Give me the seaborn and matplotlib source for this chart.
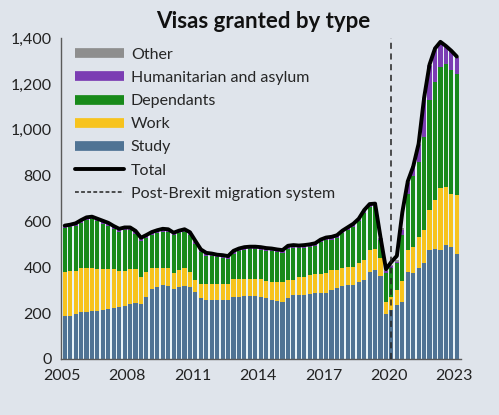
import numpy as np
import pandas as pd
import seaborn as sns
import matplotlib
matplotlib.use("Agg")
import matplotlib.pyplot as plt
from matplotlib.lines import Line2D
from matplotlib.ticker import MultipleLocator, FuncFormatter

# Quarterly periods, 2005 Q1 to 2023 Q1 (thousands of visas)
years = [y for y in range(2005, 2024) for q in range(4)][:73]
qtrs = [q for y in range(2005, 2024) for q in range(1, 5)][:73]

study = [187, 189, 195, 203, 206, 208, 209, 214, 219, 222, 225, 231, 240, 246, 240, 271,
         304, 312, 323, 318, 304, 312, 318, 312, 294, 264, 257, 257, 257, 257, 257, 271,
         271, 274, 274, 274, 271, 264, 258, 252, 250, 264, 278, 279, 279, 282, 286, 286,
         290, 303, 310, 318, 323, 323, 335, 344, 381, 388, 362, 195, 215, 235, 250, 381,
         374, 395, 417, 475, 482, 475, 497, 490, 460]
work = [194, 195, 189, 192, 189, 187, 182, 177, 172, 169, 159, 153, 151, 145, 119, 110,
        91, 83, 72, 77, 72, 78, 77, 68, 50, 63, 70, 70, 70, 70, 70, 76,
        76, 73, 73, 73, 76, 76, 79, 85, 87, 80, 66, 79, 79, 83, 86, 86,
        85, 84, 77, 77, 79, 79, 85, 87, 94, 94, 78, 55, 55, 65, 90, 94,
        116, 137, 145, 175, 211, 269, 254, 232, 255]
dependants = [189, 190, 196, 199, 211, 214, 209, 200, 191, 177, 172, 178, 171, 156, 158, 148,
              147, 155, 161, 159, 163, 158, 159, 161, 159, 139, 124, 121, 116, 114, 110, 113,
              123, 129, 131, 131, 129, 132, 133, 129, 126, 138, 141, 125, 127, 123, 121, 137,
              143, 134, 141, 153, 161, 176, 180, 207, 189, 184, 78, 126, 128, 118, 200, 247,
              307, 328, 407, 480, 517, 530, 538, 538, 530]
humanitarian = [7] * 62 + [25, 46, 38, 75, 166, 150, 140, 105, 72, 80, 70]
other = [5] * 73
total = [582, 586, 592, 606, 618, 621, 612, 603, 594, 580, 568, 574, 574, 559, 529, 541,
         554, 562, 568, 566, 551, 560, 566, 553, 515, 478, 463, 460, 455, 453, 449, 472,
         482, 488, 490, 490, 488, 484, 482, 478, 475, 494, 497, 495, 497, 500, 505, 521,
         530, 533, 540, 560, 575, 590, 612, 650, 676, 678, 530, 392, 424, 450, 640, 775,
         840, 940, 1140, 1285, 1355, 1384, 1366, 1345, 1320]
brexit_year = 2020.125

df = pd.DataFrame({"year": years, "quarter": qtrs, "Study": study, "Work": work,
                   "Dependants": dependants, "Humanitarian and asylum": humanitarian,
                   "Other": other, "Total": total})
df["x"] = df["year"] + (df["quarter"] - 0.5) / 4

series = ["Study", "Work", "Dependants", "Humanitarian and asylum", "Other"]
colors = {"Study": "#4f7394", "Work": "#f7c31d", "Dependants": "#188a1a",
          "Humanitarian and asylum": "#7b3db3", "Other": "#8e8e8e"}

bg = "#dfe4eb"
sns.set_style("white")
plt.rcParams["font.family"] = ["Lato", "DejaVu Sans"]

fig = plt.figure(figsize=(4.99, 4.15), dpi=100, facecolor=bg)
ax = fig.add_axes([0.123, 0.135, 0.80, 0.773], facecolor=bg)

# pale gaps between bars
stack_top = df[series].sum(axis=1)
ax.bar(df["x"], stack_top, width=0.25, color="#e8f3f8", linewidth=0, zorder=1)

bottom = np.zeros(len(df))
for s in series:
    ax.bar(df["x"], df[s], width=0.19, bottom=bottom, color=colors[s],
           linewidth=0, zorder=2)
    bottom += df[s].to_numpy()

sns.lineplot(data=df, x="x", y="Total", color="black", linewidth=2.8, ax=ax, zorder=4)
ax.axvline(brexit_year, color="#222222", linestyle=(0, (4, 3)), linewidth=1.1, zorder=5)

ax.set_xlim(2004.97, 2023.3)
ax.set_ylim(0, 1400)
ax.yaxis.set_major_locator(MultipleLocator(200))
ax.yaxis.set_major_formatter(FuncFormatter(lambda v, p: f"{int(v):,}"))
ax.xaxis.set_major_locator(MultipleLocator(1))
ax.xaxis.set_major_formatter(FuncFormatter(
    lambda v, p: f"{int(round(v))}" if (int(round(v)) - 2005) % 3 == 0 else ""))
ax.set_xlabel("")
ax.set_ylabel("")
for side in ["top", "right"]:
    ax.spines[side].set_visible(False)
for side in ["left", "bottom"]:
    ax.spines[side].set_color("#5a5a5a")
    ax.spines[side].set_linewidth(1.0)
ax.tick_params(axis="both", direction="out", length=4, width=0.9, color="#5a5a5a",
               labelsize=11.5, labelcolor="#222222", pad=3)

handles = [Line2D([], [], color=colors["Other"], lw=7, solid_capstyle="butt"),
           Line2D([], [], color=colors["Humanitarian and asylum"], lw=7, solid_capstyle="butt"),
           Line2D([], [], color=colors["Dependants"], lw=7, solid_capstyle="butt"),
           Line2D([], [], color=colors["Work"], lw=7, solid_capstyle="butt"),
           Line2D([], [], color=colors["Study"], lw=7, solid_capstyle="butt"),
           Line2D([], [], color="black", lw=2.8),
           Line2D([], [], color="#222222", lw=1.1, linestyle=(0, (2.5, 1.5)))]
labels = ["Other", "Humanitarian and asylum", "Dependants", "Work", "Study", "Total",
          "Post-Brexit migration system"]
ax.legend(handles, labels, loc="upper left", bbox_to_anchor=(0.01, 1.0), frameon=False,
          fontsize=11.5, handlelength=3.1, handletextpad=0.4, labelspacing=0.56,
          borderaxespad=0.2)

fig.text(0.527, 0.948, "Visas granted by type", ha="center", va="center",
         fontsize=16, fontweight="bold", color="#111111")

fig.savefig("out.png", dpi=100, facecolor=bg)
